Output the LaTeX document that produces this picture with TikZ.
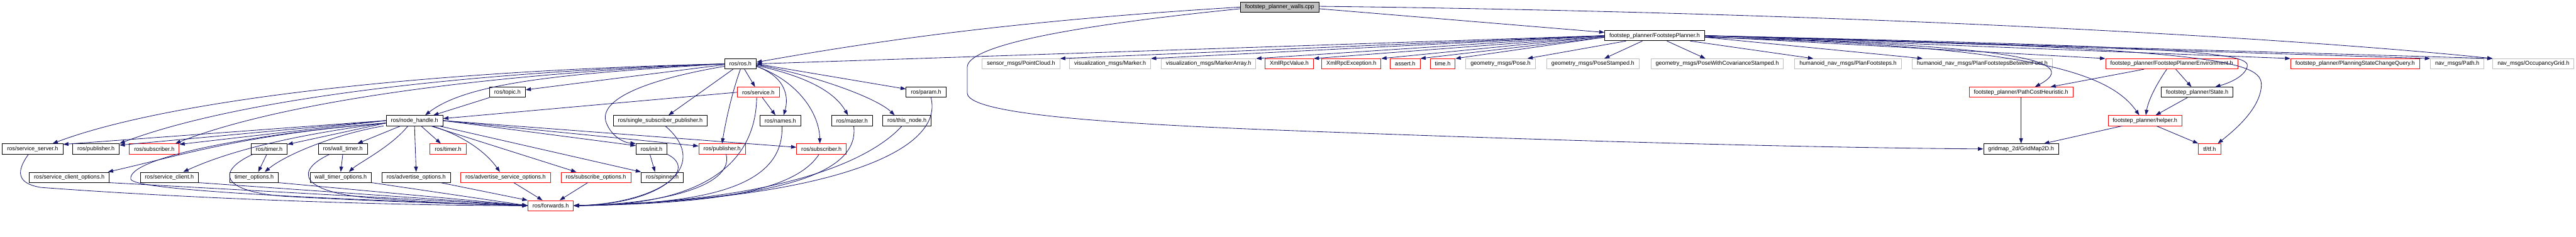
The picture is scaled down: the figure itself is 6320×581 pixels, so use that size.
\documentclass[tikz,border=0pt]{standalone}
\usepackage{fontspec}
\setmainfont{Liberation Sans}
\usetikzlibrary{arrows.meta}
\definecolor{edgeblue}{RGB}{25,25,112}
\definecolor{extgray}{RGB}{191,191,191}

\begin{document}
\begin{tikzpicture}[x=0.5pt, y=-0.5pt, font=\fontsize{7}{8.4}\selectfont,
  file/.style={draw=black, line width=0.65pt, fill=white, inner xsep=5.8pt, inner ysep=0pt, minimum height=12.5pt},
  trunc/.style={file, draw=red},
  ext/.style={file, draw=extgray},
  root/.style={file, fill=extgray},
  dep/.style={-{Triangle[length=6.5pt, width=4.6pt]}, draw=edgeblue, line width=0.65pt}]
\useasboundingbox (0,0) rectangle (6320,581);

% source file and planner header
\node[root] (walls) at (3139.5,17.5) {footstep\_planner\_walls.cpp};
\node[file] (fp) at (4059.5,87.5) {footstep\_planner/FootstepPlanner.h};

% row 2
\node[file] (ros) at (1816.5,156.8) {ros/ros.h};
\node[ext] (pcl) at (2505,156.8) {sensor\_msgs/PointCloud.h};
\node[ext] (marker) at (2723.5,156.8) {visualization\_msgs/Marker.h};
\node[ext] (markerarr) at (2965,156.8) {visualization\_msgs/MarkerArray.h};
\node[trunc] (xmlval) at (3163,156.8) {XmlRpcValue.h};
\node[trunc] (xmlexc) at (3315.5,156.8) {XmlRpcException.h};
\node[trunc] (assert) at (3447.5,156.8) {assert.h};
\node[trunc] (time) at (3539.5,156.8) {time.h};
\node[ext] (pose) at (3681.5,156.8) {geometry\_msgs/Pose.h};
\node[ext] (posest) at (3908,156.8) {geometry\_msgs/PoseStamped.h};
\node[ext] (posecov) at (4213,156.8) {geometry\_msgs/PoseWithCovarianceStamped.h};
\node[ext] (planfs) at (4534,156.8) {humanoid\_nav\_msgs/PlanFootsteps.h};
\node[ext] (planfsbf) at (4863.5,156.8) {humanoid\_nav\_msgs/PlanFootstepsBetweenFeet.h};
\node[trunc] (env) at (5328,156.8) {footstep\_planner/FootstepPlannerEnvironment.h};
\node[trunc] (query) at (5778,156.8) {footstep\_planner/PlanningStateChangeQuery.h};
\node[ext] (path) at (6028.5,156.8) {nav\_msgs/Path.h};
\node[ext] (occ) at (6215.5,156.8) {nav\_msgs/OccupancyGrid.h};

% row 3
\node[file] (topic) at (1245,226.5) {ros/topic.h};
\node[trunc] (service) at (1860.5,226.5) {ros/service.h};
\node[file] (param) at (2272,226.5) {ros/param.h};
\node[trunc] (heur) at (4958.5,226.5) {footstep\_planner/PathCostHeuristic.h};
\node[file] (state) at (5390.5,226.5) {footstep\_planner/State.h};

% row 4
\node[file] (nh) at (1017,296) {ros/node\_handle.h};
\node[file] (ssp) at (1620,296) {ros/single\_subscriber\_publisher.h};
\node[file] (names) at (1914.5,296) {ros/names.h};
\node[file] (master) at (2090.5,296) {ros/master.h};
\node[file] (thisnode) at (2225,296) {ros/this\_node.h};
\node[trunc] (helper) at (5262.5,296) {footstep\_planner/helper.h};

% row 5
\node[file] (srvserver) at (80,365.5) {ros/service\_server.h};
\node[file] (pub) at (235.5,365.5) {ros/publisher.h};
\node[trunc] (sub) at (378.5,365.5) {ros/subscriber.h};
\node[file] (timer) at (660.5,365.5) {ros/timer.h};
\node[file] (walltimer) at (841,365.5) {ros/wall\_timer.h};
\node[trunc] (timerr) at (1099.5,365.5) {ros/timer.h};
\node[file] (init) at (1598.5,365.5) {ros/init.h};
\node[trunc] (pubr) at (1771.5,365.5) {ros/publisher.h};
\node[trunc] (subr) at (2015.5,365.5) {ros/subscriber.h};
\node[file] (grid) at (4958.5,365.5) {gridmap\_2d/GridMap2D.h};
\node[trunc] (tf) at (5421,365.5) {tf/tf.h};

% row 6
\node[file] (sco) at (170,435.2) {ros/service\_client\_options.h};
\node[file] (sc) at (415.5,435.2) {ros/service\_client.h};
\node[file] (topt) at (623.5,435.2) {timer\_options.h};
\node[file] (wtopt) at (836,435.2) {wall\_timer\_options.h};
\node[file] (advopt) at (1021,435.2) {ros/advertise\_options.h};
\node[trunc] (advsrvopt) at (1240.5,435.2) {ros/advertise\_service\_options.h};
\node[trunc] (subopt) at (1462,435.2) {ros/subscribe\_options.h};
\node[file] (spinner) at (1625,435.2) {ros/spinner.h};

% row 7
\node[trunc] (fwd) at (1351,504.7) {ros/forwards.h};

% from the source file
\draw[dep] (walls.west) .. controls (2500,50) and (2150,100) .. ([yshift=2pt]ros.east);
\draw[dep] ([yshift=-2pt]walls.east) -- ([yshift=4pt]fp.west);
\draw[dep] ([yshift=1pt]walls.east) .. controls (4500,30) and (5600,90) .. (occ.north west);
\draw[dep] ([yshift=-2pt]walls.west) .. controls (2560,70) and (2373,120) .. (2373,165) -- (2373,228)
  .. controls (2373,275) and (2650,300) .. (3100,318) .. controls (3800,345) and (4400,362) .. (grid.west);

% from the planner header
\draw[dep] (fp.west) -- (ros.east);
\draw[dep] (fp.west) -- (pcl.north east);
\draw[dep] (fp.west) -- (marker.north east);
\draw[dep] (fp.west) -- (markerarr.north east);
\draw[dep] ([yshift=-1pt]fp.west) -- (xmlval.north east);
\draw[dep] ([yshift=-1pt]fp.west) -- (xmlexc.north east);
\draw[dep] ([yshift=-2pt]fp.west) -- (assert.north east);
\draw[dep] ([yshift=-2pt]fp.west) -- (time.north east);
\draw[dep] ([xshift=-35pt]fp.south) -- ([xshift=-10pt]pose.north east);
\draw[dep] ([xshift=-15pt]fp.south) -- ([xshift=14pt]posest.north);
\draw[dep] ([xshift=15pt]fp.south) -- ([xshift=-14.5pt]posecov.north);
\draw[dep] ([xshift=-18pt]fp.south east) -- ([xshift=23pt]planfs.north west);
\draw[dep] ([yshift=-2pt]fp.east) -- ([xshift=13pt]planfsbf.north west);
\draw[dep] ([yshift=-1pt]fp.east) -- (env.north west);
\draw[dep] (fp.east) -- (query.north west);
\draw[dep] (fp.east) -- (path.north west);
\draw[dep] (fp.east) -- (occ.north west);
\draw[dep] ([yshift=-2pt]fp.east) .. controls (4950,110) and (5110,150) .. ([xshift=17pt]heur.north);
\draw[dep] ([yshift=-2pt]fp.east) .. controls (4950,112) and (5170,170) .. ([xshift=-7pt]helper.north);
\draw[dep] (fp.east) .. controls (5400,115) and (5525,130) .. (5513,165) .. controls (5505,190) and (5465,205) .. ([xshift=22pt]state.north);
\draw[dep] (fp.east) .. controls (5450,118) and (5550,150) .. (5548,210) .. controls (5545,270) and (5475,325) .. ([xshift=10pt]tf.north);

% planner internals
\draw[dep] ([xshift=-34pt]env.south) -- ([xshift=36pt]heur.north);
\draw[dep] ([xshift=-6pt]env.south) .. controls (5285,215) and (5270,250) .. ([xshift=1pt]helper.north);
\draw[dep] ([xshift=5pt]env.south) -- ([xshift=-7pt]state.north);
\draw[dep] ([xshift=-12pt]state.south) -- ([xshift=13pt]helper.north);
\draw[dep] (heur.south) -- (grid.north);
\draw[dep] ([xshift=-28pt]helper.south) -- ([xshift=28pt]grid.north);
\draw[dep] ([xshift=14pt]helper.south) -- (tf.north west);

% from ros/ros.h
\draw[dep] (ros.west) .. controls (1000,175) and (400,250) .. ([xshift=-13pt]srvserver.north east);
\draw[dep] (ros.west) .. controls (1050,180) and (550,255) .. (pub.north east);
\draw[dep] (ros.west) .. controls (1100,185) and (650,265) .. ([xshift=-5pt]sub.north east);
\draw[dep] (ros.west) .. controls (1400,180) and (1150,200) .. ([xshift=13pt]nh.north);
\draw[dep] ([yshift=-1pt]ros.west) -- ([yshift=3pt]topic.east);
\draw[dep] ([yshift=-3pt]ros.west) .. controls (1560,200) and (1470,250) .. (1487,300) .. controls (1500,335) and (1530,350) .. (init.north west);
\draw[dep] ([xshift=-9pt]ros.south) -- ([xshift=10pt]ssp.north);
\draw[dep] (ros.south) .. controls (1795,230) and (1780,300) .. (pubr.north);
\draw[dep] ([xshift=5pt]ros.south) -- ([xshift=-4pt]service.north);
\draw[dep] ([yshift=-3pt]ros.east) .. controls (1930,190) and (1935,240) .. ([xshift=4pt]names.north);
\draw[dep] ([yshift=-3pt]ros.east) .. controls (1960,200) and (2010,280) .. ([xshift=-2pt]subr.north);
\draw[dep] ([yshift=-2pt]ros.east) .. controls (1990,190) and (2050,230) .. ([xshift=-5pt]master.north);
\draw[dep] ([yshift=-1pt]ros.east) .. controls (2000,185) and (2150,240) .. ([xshift=-15pt]thisnode.north);
\draw[dep] (ros.east) -- ([yshift=4pt]param.west);

% ros/topic.h and ros/service.h
\draw[dep] (topic.south west) -- ([xshift=23pt]nh.north);
\draw[dep] (service.west) -- ([yshift=2.5pt]nh.east);
\draw[dep] ([xshift=5pt]service.south) -- ([xshift=-6pt]names.north);
\draw[dep] ([xshift=-2pt]service.south) .. controls (1852,470) and (1600,505) .. (fwd.east);

% from ros/node_handle.h
\draw[dep] (nh.west) -- ([yshift=-1pt]srvserver.north east);
\draw[dep] (nh.west) -- ([yshift=-2pt]pub.north east);
\draw[dep] (nh.west) -- ([yshift=-1pt]sub.north east);
\draw[dep] ([yshift=-3pt]nh.west) -- ([yshift=-1pt]timer.north east);
\draw[dep] ([yshift=-3pt]nh.west) .. controls (600,330) and (450,380) .. ([xshift=-2pt]sco.north east);
\draw[dep] ([yshift=-3pt]nh.west) .. controls (650,340) and (520,390) .. ([xshift=17pt]sc.north);
\draw[dep] ([yshift=-3pt]nh.west) .. controls (600,330) and (310,390) .. (321,440) .. controls (330,470) and (900,492) .. (fwd.west);
\draw[dep] ([xshift=-3pt]nh.south west) .. controls (820,330) and (700,380) .. ([xshift=13pt]topt.north);
\draw[dep] ([xshift=-17pt]nh.south) -- ([xshift=18pt]walltimer.north);
\draw[dep] ([xshift=-8pt]nh.south) .. controls (960,360) and (880,400) .. ([xshift=10pt]wtopt.north);
\draw[dep] (nh.south) -- (advopt.north);
\draw[dep] ([xshift=8pt]nh.south) -- ([xshift=-9pt]timerr.north);
\draw[dep] ([xshift=21pt]nh.south) .. controls (1130,330) and (1190,370) .. ([xshift=-7pt]advsrvopt.north);
\draw[dep] ([xshift=20pt]nh.south) -- ([xshift=-24pt]subopt.north);
\draw[dep] ([xshift=-5pt]nh.south east) -- (spinner.north west);
\draw[dep] (nh.east) -- ([yshift=4pt]init.west);
\draw[dep] (nh.east) -- ([yshift=3.5pt]pubr.west);
\draw[dep] (nh.east) -- ([yshift=2pt]subr.west);

% timers and options
\draw[dep] ([xshift=-3pt]timer.south) -- ([xshift=5pt]topt.north);
\draw[dep] ([xshift=-20pt]timer.south) .. controls (530,420) and (540,470) .. (700,482) .. controls (1000,498) and (1200,502) .. (fwd.west);
\draw[dep] (walltimer.south) -- (wtopt.north);
\draw[dep] ([xshift=-16pt]walltimer.south) .. controls (720,420) and (740,470) .. (900,485) .. controls (1100,500) and (1200,503) .. (fwd.west);
\draw[dep] ([xshift=-5pt]srvserver.south) .. controls (40,420) and (40,450) .. (100,460) .. controls (500,490) and (1000,505) .. (fwd.west);
\draw[dep] (sco.south east) -- (fwd.west);
\draw[dep] (sc.south east) -- (fwd.west);
\draw[dep] (topt.south east) -- (fwd.west);
\draw[dep] (wtopt.south east) -- (fwd.west);
\draw[dep] ([xshift=30pt]advopt.south) -- (fwd.north west);
\draw[dep] ([xshift=10pt]advsrvopt.south) -- ([xshift=-10pt]fwd.north);
\draw[dep] ([xshift=-10pt]subopt.south) -- ([xshift=11pt]fwd.north);

% into ros/forwards.h from the right
\draw[dep] ([xshift=-2pt]init.south) -- ([xshift=-9pt]spinner.north);
\draw[dep] (init.south east) .. controls (1720,420) and (1600,500) .. (fwd.east);
\draw[dep] ([xshift=6pt]ssp.south) .. controls (1740,400) and (1640,500) .. (fwd.east);
\draw[dep] ([xshift=5pt]pubr.south) .. controls (1800,450) and (1650,500) .. (fwd.east);
\draw[dep] ([xshift=2pt]names.south) .. controls (1925,470) and (1700,500) .. (fwd.east);
\draw[dep] ([xshift=-3pt]subr.south) .. controls (1950,470) and (1750,500) .. (fwd.east);
\draw[dep] ([xshift=2pt]master.south) .. controls (2110,430) and (1900,492) .. (fwd.east);
\draw[dep] ([xshift=-6pt]thisnode.south) .. controls (2130,400) and (1900,495) .. (fwd.east);
\draw[dep] ([xshift=6pt]param.south) .. controls (2320,380) and (2000,492) .. (fwd.east);
\end{tikzpicture}
\end{document}
